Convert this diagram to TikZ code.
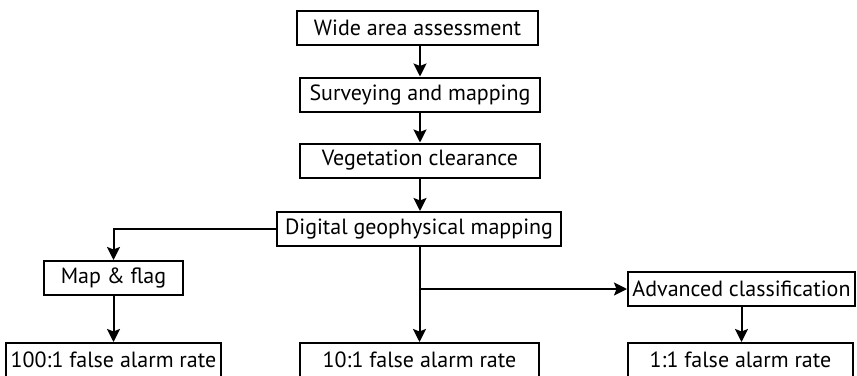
\documentclass[tikz,border=0pt]{standalone}
\usepackage{fontspec}
\setmainfont{PT Sans}
\usetikzlibrary{arrows.meta}
\begin{document}
\begin{tikzpicture}[x=1pt,y=-1pt,
  box/.style={draw,line width=2pt,minimum height=34pt,inner sep=0pt,font=\fontsize{22}{26}\selectfont,anchor=center},
  arr/.style={line width=2pt,-{Stealth[length=13pt,width=13pt,inset=2.5pt]}}]
\useasboundingbox (0,0) rectangle (857,375);
\node[box,minimum width=241pt] (A) at (417.5,28) {Wide area assessment};
\node[box,minimum width=240pt] (B) at (420,94.5) {Surveying and mapping};
\node[box,minimum width=240pt] (C) at (420,160.5) {Vegetation clearance};
\node[box,minimum width=284pt] (D) at (419,229) {Digital geophysical mapping};
\node[box,minimum width=139pt] (E) at (113.5,278) {Map \& flag};
\node[box,minimum width=215pt] (F) at (113.5,360) {100:1 false alarm rate};
\node[box,minimum width=239pt] (G) at (419.5,360) {10:1 false alarm rate};
\node[box,minimum width=227pt] (H) at (741.5,289) {Advanced classification};
\node[box,minimum width=225pt] (I) at (740.5,360) {1:1 false alarm rate};
\draw[arr] (A.south -| B.north) -- (B.north);
\draw[arr] (B.south) -- (C.north);
\draw[arr] (C.south) -- (C.south |- D.north);
\draw[arr] (D.west) -| (E.north);
\draw[arr] (E.south) -- (F.north);
\draw[arr] (D.south -| G.north) -- (G.north);
\draw[arr] (D.south |- H.west) -- (H.west);
\draw[arr] (H.south) -- (H.south |- I.north);
\end{tikzpicture}
\end{document}
